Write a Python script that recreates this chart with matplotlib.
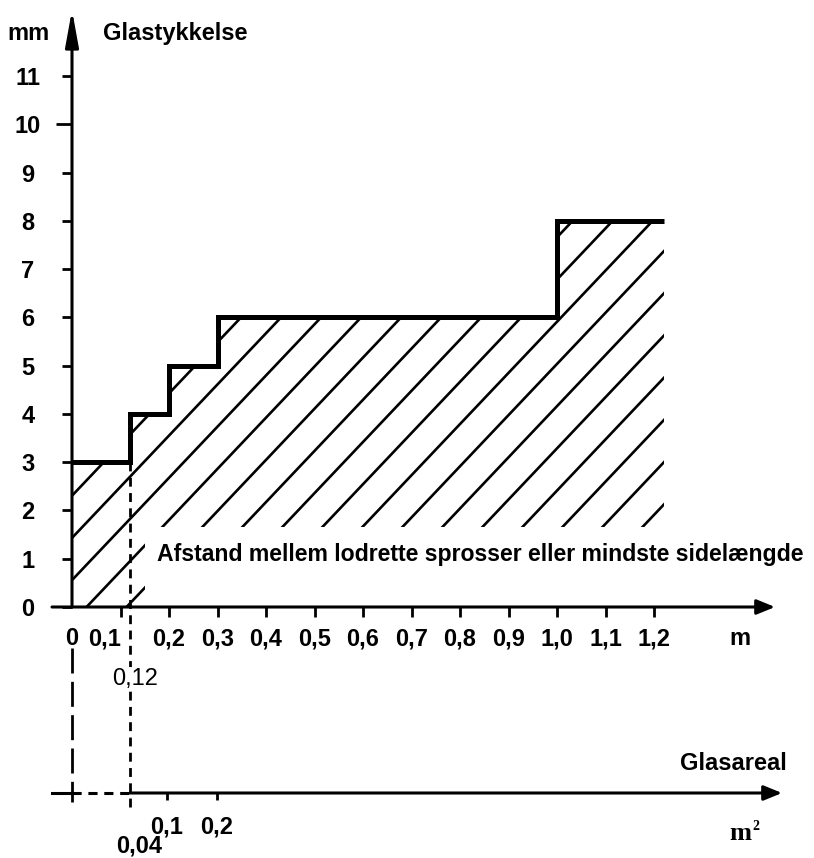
import numpy as np
import matplotlib.pyplot as plt
from matplotlib.patches import Polygon

plt.rcParams['font.family'] = ['Liberation Sans', 'DejaVu Sans']
plt.rcParams['font.weight'] = 'bold'

# glass thickness (mm) against distance between glazing bars (m)
edges = [0, 0.12, 0.2, 0.3, 1.0, 1.22]
thickness = [3, 4, 5, 6, 8]

x_ticks = [0, 0.1, 0.2, 0.3, 0.4, 0.5, 0.6, 0.7, 0.8, 0.9, 1.0, 1.1, 1.2]
x_labels = ['0', '0,1', '0,2', '0,3', '0,4', '0,5', '0,6', '0,7', '0,8',
            '0,9', '1,0', '1,1', '1,2']
y_ticks = [0, 1, 2, 3, 4, 5, 6, 7, 8, 9, 10, 11]
y_labels = [str(v) for v in y_ticks]
area_ticks = [0.1, 0.2]
area_labels = ['0,1', '0,2']
marked_side = 0.12     # m
marked_area = 0.04     # m2

# hand drawn hatch: y = slope * (x - c)
hatch_slope = 10.6
hatch_step = 0.0825
hatch_origin = 0.03
gap_x, gap_top = 0.15, 1.657   # blank space kept for the label

# layout: pixel scale of the drawing
W, H = 814, 858
X0, Y0 = 72, 607
PX, PY = 485.0, 48.27
FS = 17


def at(px, py):
    return (px - X0) / PX, (Y0 - py) / PY


def m_to_area(m):
    return (m * PX - 45) / 500.0


def area_to_m(a):
    return (a * 500.0 + 45) / PX


fig = plt.figure(figsize=(W / 100, H / 100), dpi=100)
ax = fig.add_axes([0, 0, 1, 1])
ax.set_xlim(-X0 / PX, (W - X0) / PX)
ax.set_ylim((Y0 - H) / PY, Y0 / PY)

for s in ['top', 'right']:
    ax.spines[s].set_visible(False)
ax.spines['left'].set_position(('data', 0))
ax.spines['bottom'].set_position(('data', 0))
ax.spines['left'].set_visible(False)
ax.spines['bottom'].set_visible(False)

ax.set_xticks(x_ticks, x_labels)
ax.set_yticks(y_ticks, y_labels, ha='center')
ax.tick_params(axis='x', direction='out', length=7.2, width=2, pad=7.5,
               labelsize=FS)
ax.tick_params(axis='y', direction='out', length=7.2, width=2, pad=24.5,
               labelsize=FS)
ax.xaxis.get_major_ticks()[0].tick1line.set_visible(False)
ax.xaxis.get_major_ticks()[1].label1.set_ha('right')
ax.yaxis.get_major_ticks()[10].tick1line.set_markersize(11.5)

# axis lines with arrows
x_tip = at(775, 0)[0]
y_tip = at(0, 10)[1]
ax.annotate('', xy=(0, y_tip), xytext=(0, 0),
            arrowprops=dict(arrowstyle='-|>,head_length=2.2,head_width=0.4',
                            color='k', lw=2.2, shrinkA=0, shrinkB=0,
                            mutation_scale=10))
ax.annotate('', xy=(x_tip, 0), xytext=(at(52, 0)[0], 0),
            arrowprops=dict(arrowstyle='-|>,head_length=1.1,head_width=0.45',
                            color='k', lw=2.2, shrinkA=0, shrinkB=0,
                            mutation_scale=10))

# hatched area under the steps
top = []
for i in range(len(thickness) - 1, -1, -1):
    top.append((edges[i + 1], thickness[i]))
    top.append((edges[i], thickness[i]))
verts = [(0, 0), (gap_x, 0), (gap_x, gap_top), (edges[-1], gap_top)] + top
region = Polygon(verts, closed=True, transform=ax.transData)

ys = np.array([0, 12])
for c in np.arange(hatch_origin - 5 * hatch_step, edges[-1], hatch_step):
    ax.plot(c + ys / hatch_slope, ys, color='k', lw=1.9,
            clip_path=region, solid_capstyle='butt')

st = ax.stairs(thickness, edges, baseline=None, color='k', lw=3.6, zorder=4)
st.set_joinstyle('miter')

# dashed guides
ax.plot([marked_side, marked_side], [thickness[0], at(0, 810)[1]],
        color='k', lw=2.0, dashes=(3.2, 2.3))
ax.plot([0, 0], [at(0, 648)[1], at(0, 802)[1]], color='k', lw=2.0,
        dashes=(9, 3))

# area axis
y_area = at(0, 793)[1]
ax.plot([at(52, 0)[0], 0], [y_area, y_area], color='k', lw=2.2)
ax.plot([0, marked_side], [y_area, y_area], color='k', lw=2.2,
        dashes=(3, 2.2))
ax.annotate('', xy=(at(782, 0)[0], y_area), xytext=(marked_side, y_area),
            arrowprops=dict(arrowstyle='-|>,head_length=1.1,head_width=0.45',
                            color='k', lw=2.2, shrinkA=0, shrinkB=0,
                            mutation_scale=10))

sec = ax.secondary_xaxis((H - 793) / H, functions=(m_to_area, area_to_m))
sec.set_xticks(area_ticks, area_labels)
sec.tick_params(direction='out', length=5, width=2, pad=11.5, labelsize=FS)
sec.spines['bottom'].set_visible(False)

# texts
ax.text(*at(28, 40), 'mm', ha='center', va='baseline', fontsize=FS)
ax.text(*at(103, 40), 'Glastykkelse', ha='left', va='baseline', fontsize=FS)
ax.text(*at(157, 561), 'Afstand mellem lodrette sprosser eller mindste sidelængde',
        ha='left', va='baseline', fontsize=16.6)
ax.text(*at(740, 645), 'm', ha='center', va='baseline', fontsize=FS)
ax.text(*at(135, 685), '0,12', ha='center', va='baseline', fontsize=FS,
        fontweight='normal', zorder=5,
        bbox=dict(facecolor='white', edgecolor='none', pad=1))
ax.text(area_to_m(marked_area + 0.004), at(0, 852)[1], '0,04', ha='center',
        va='baseline', fontsize=FS)
ax.text(*at(733, 770), 'Glasareal', ha='center', va='baseline', fontsize=FS)
ax.text(*at(740, 840), 'm', ha='center', va='baseline', fontsize=19,
        family=['Liberation Serif', 'DejaVu Serif'])
ax.text(*at(756, 830), '2', ha='center', va='baseline', fontsize=10,
        family=['Liberation Serif', 'DejaVu Serif'])

fig.savefig('out.png', dpi=100)
